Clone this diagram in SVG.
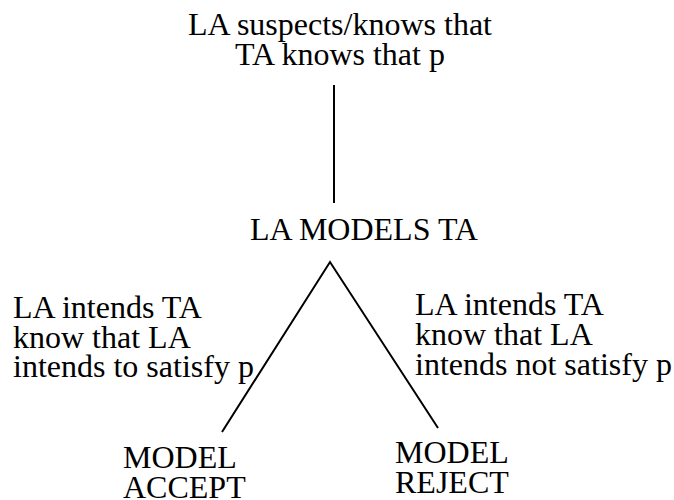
<svg xmlns="http://www.w3.org/2000/svg" width="674" height="500" viewBox="0 0 674 500">
<style>
text{font-family:"Liberation Serif","Times New Roman",serif;font-size:32px;fill:#000}
.c{stroke:#000;stroke-width:2;fill:none}
</style>
<rect width="674" height="500" fill="#fff"/>
<g id="top">
<text x="340" y="35" text-anchor="middle">LA suspects/knows that</text>
<text x="340" y="65" text-anchor="middle">TA knows that p</text>
</g>
<g id="models">
<text x="250" y="240">LA MODELS TA</text>
</g>
<g id="accept">
<text x="123" y="468">MODEL</text>
<text x="123" y="498">ACCEPT</text>
</g>
<g id="reject">
<text x="395" y="463">MODEL</text>
<text x="395" y="493">REJECT</text>
</g>
<g id="connectors">
<line class="c" x1="334" y1="85" x2="334" y2="203"/>
<polyline class="c" points="222,432 330,262 438,428"/>
<text x="13" y="318">LA intends TA</text>
<text x="13" y="348">know that LA</text>
<text x="13" y="377">intends to satisfy p</text>
<text x="415" y="315">LA intends TA</text>
<text x="415" y="345">know that LA</text>
<text x="415" y="375">intends not satisfy p</text>
</g>
</svg>
